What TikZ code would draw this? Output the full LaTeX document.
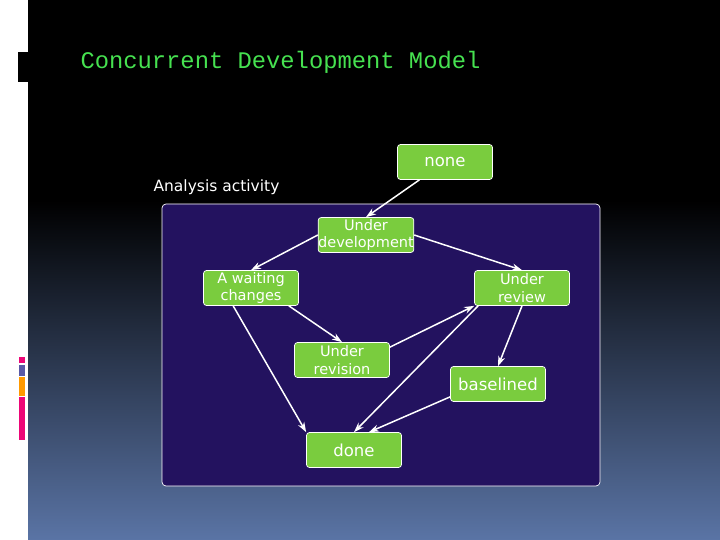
\documentclass[tikz,border=0pt]{standalone}
\usepackage{fontspec}
\setmainfont{DejaVu Sans}
\newfontfamily\monof{Liberation Mono}
\begin{document}
\begin{tikzpicture}[x=1pt,y=-1pt,
  st/.style={draw=white,line width=0.7pt,fill=nodegreen,rounded corners=3pt,minimum width=95pt,minimum height=35pt,inner sep=0pt,align=center,text=white,font=\fontsize{14.5}{17.5}\selectfont},
  big/.style={font=\fontsize{16.5}{18}\selectfont},
  ar/.style={-{Stealth[length=10pt,width=7pt]},white,line width=1.5pt}]
\usetikzlibrary{arrows.meta}
\definecolor{nodegreen}{RGB}{122,204,62}
\definecolor{panel}{RGB}{35,18,95}
\definecolor{titleg}{RGB}{70,225,80}
\definecolor{bot}{RGB}{90,116,165}
\useasboundingbox (0,0) rectangle (720,540);
\fill[black] (0,0) rectangle (720,200);
\shade[top color=black,bottom color=bot] (0,200) rectangle (720,540);
\fill[white] (0,0) rectangle (28,540);
\fill[black] (18,52) rectangle (28,82);
\fill[magenta!80!red] (19,357) rectangle (25,363);
\fill[gray!70!blue] (19,365) rectangle (25,376);
\fill[orange!80!yellow] (19,377) rectangle (25,396);
\fill[magenta!80!red] (19,397) rectangle (25,440);
\node[anchor=west,text=titleg,font=\monof\fontsize{23.8}{25}\selectfont] (title) at (77,62) {Concurrent Development Model};
\node[anchor=west,text=white,font=\fontsize{15.5}{17}\selectfont] (lab) at (150,187) {Analysis activity};
\draw[white,line width=0.7pt,fill=panel,rounded corners=4pt] (162,204) rectangle (600,486);
\node[st,big] (none) at (445,162) {none};
\node[st] (dev) at (366,235) {Under\\development};
\node[st] (wait) at (251,288) {A waiting\\changes};
\node[st] (rev) at (522,288) {Under\\review};
\node[st] (revi) at (342,360) {Under\\revision};
\node[st,big] (base) at (498,384) {baselined};
\node[st,big] (done) at (354,450) {done};
\draw[ar] (none) -- (dev.north);
\draw[ar] (dev.west) -- (wait.north);
\draw[ar] (dev.east) -- (rev.north);
\draw[ar] (wait.south west) ++(30,0) -- (done.north west);
\draw[ar] (wait.south east) ++(-10,0) -- (revi.north);
\draw[ar] (revi.north east) ++(0,5) -- (rev.south west);
\draw[ar] (rev.south west) ++(4,0) -- (done.north);
\draw[ar] (rev.south) -- (base.north);
\draw[ar] (base.south west) ++(0,-5) -- ([xshift=15pt]done.north);
\end{tikzpicture}
\end{document}
